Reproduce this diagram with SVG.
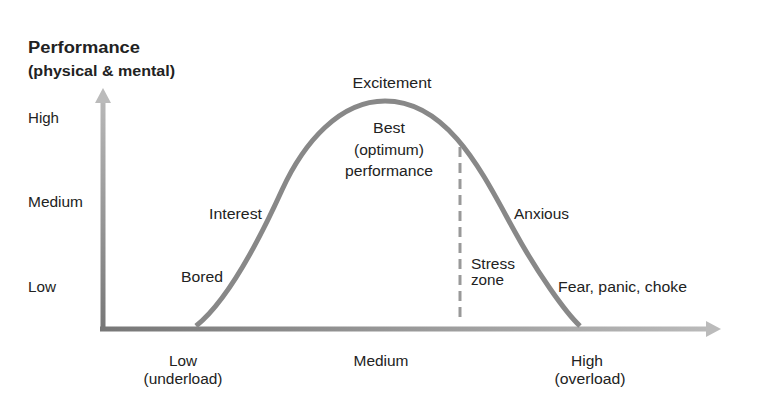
<svg xmlns="http://www.w3.org/2000/svg" width="772" height="400" viewBox="0 0 772 400">
<style>
text{font-family:"Liberation Sans",Arial,sans-serif;font-size:14px;fill:#222}
.b{font-weight:bold}
.m{text-anchor:middle}
</style>
<defs>
<linearGradient id="gx" x1="100" y1="0" x2="720" y2="0" gradientUnits="userSpaceOnUse">
<stop offset="0" stop-color="#777"/><stop offset="1" stop-color="#bbb"/>
</linearGradient>
<linearGradient id="gy" x1="0" y1="330" x2="0" y2="88" gradientUnits="userSpaceOnUse">
<stop offset="0" stop-color="#777"/><stop offset="1" stop-color="#bbb"/>
</linearGradient>
</defs>
<rect width="772" height="400" fill="#fff"/>
<g id="axes">
<line x1="103" y1="331" x2="103" y2="100" stroke="url(#gy)" stroke-width="5"/>
<polygon points="103,88 95,103 111,103" fill="#bbb"/>
<line x1="100" y1="329" x2="708" y2="329" stroke="url(#gx)" stroke-width="5"/>
<polygon points="721,329 706,321 706,337" fill="#bbb"/>
</g>
<g id="curve">
<path d="M196,326 C226,302 257,245 282,190 C304,142 340,101 385,101 C450,101 485,178 515,232 C537,272 565,312 580,326" fill="none" stroke="#888" stroke-width="5"/>
</g>
<g id="stress-line">
<line x1="460" y1="147" x2="460" y2="323" stroke="#999" stroke-width="3" stroke-dasharray="10,6"/>
</g>
<g id="labels">
<text x="28" y="53" class="b" style="font-size:16px" textLength="112" lengthAdjust="spacingAndGlyphs">Performance</text>
<text x="28" y="76" class="b" textLength="147" lengthAdjust="spacingAndGlyphs">(physical &amp; mental)</text>
<text x="28" y="123" textLength="31" lengthAdjust="spacingAndGlyphs">High</text>
<text x="28" y="207" textLength="55" lengthAdjust="spacingAndGlyphs">Medium</text>
<text x="28" y="292" textLength="28" lengthAdjust="spacingAndGlyphs">Low</text>
<text x="392" y="88" class="m" textLength="79" lengthAdjust="spacingAndGlyphs">Excitement</text>
<text x="389" y="133" class="m" textLength="32" lengthAdjust="spacingAndGlyphs">Best</text>
<text x="389" y="155" class="m" textLength="70" lengthAdjust="spacingAndGlyphs">(optimum)</text>
<text x="389" y="176" class="m" textLength="88" lengthAdjust="spacingAndGlyphs">performance</text>
<text x="209" y="219" textLength="53" lengthAdjust="spacingAndGlyphs">Interest</text>
<text x="181" y="282" textLength="42" lengthAdjust="spacingAndGlyphs">Bored</text>
<text x="514" y="219" textLength="55" lengthAdjust="spacingAndGlyphs">Anxious</text>
<text x="471" y="269" textLength="44" lengthAdjust="spacingAndGlyphs">Stress</text>
<text x="471" y="285" textLength="33" lengthAdjust="spacingAndGlyphs">zone</text>
<text x="558" y="292" textLength="129" lengthAdjust="spacingAndGlyphs">Fear, panic, choke</text>
<text x="183" y="366" class="m" textLength="28" lengthAdjust="spacingAndGlyphs">Low</text>
<text x="183" y="384" class="m" textLength="79" lengthAdjust="spacingAndGlyphs">(underload)</text>
<text x="381" y="366" class="m" textLength="55" lengthAdjust="spacingAndGlyphs">Medium</text>
<text x="587" y="366" class="m" textLength="32" lengthAdjust="spacingAndGlyphs">High</text>
<text x="590" y="384" class="m" textLength="71" lengthAdjust="spacingAndGlyphs">(overload)</text>
</g>
</svg>
